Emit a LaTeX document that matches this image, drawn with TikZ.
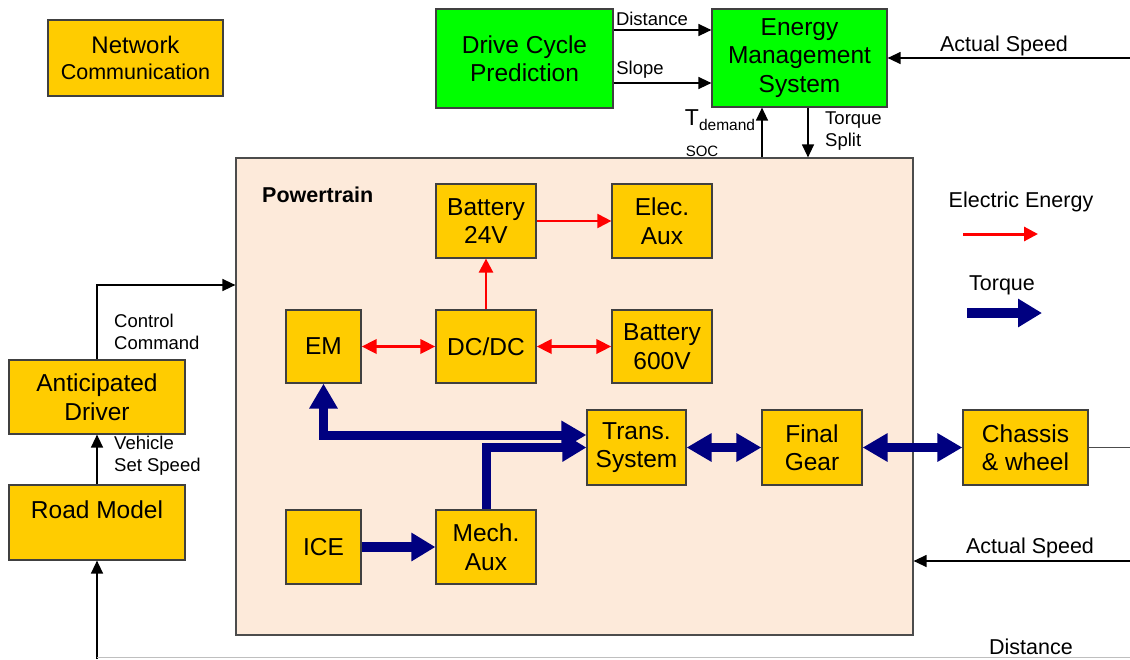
\documentclass[tikz,border=0pt]{standalone}
\usepackage{fontspec}
\setmainfont{Liberation Sans}
\usetikzlibrary{arrows.meta,calc}
\definecolor{obox}{HTML}{FFCC00}
\definecolor{grn}{HTML}{00FF00}
\definecolor{peach}{HTML}{FDEADA}
\definecolor{navyb}{HTML}{000080}
\definecolor{redl}{HTML}{FF0000}
\begin{document}
\begin{tikzpicture}[x=1pt,y=-1pt,
  box/.style={draw=black!75,line width=1.2pt,fill=obox,inner sep=0pt,align=center,font=\fontsize{24.5}{28.5}\selectfont},
  gbox/.style={box,fill=grn},
  lbl/.style={inner sep=0pt,align=left,font=\fontsize{18.5}{22}\selectfont},
  lbltwo/.style={inner sep=0pt,align=center,font=\fontsize{21.5}{24}\selectfont},
  sarrow/.style={draw=black,line width=1.3pt,-{Triangle[width=12pt,length=13pt]}},
  earrow/.style={draw=redl,line width=3pt,-{Triangle[width=14pt,length=14pt]}},
  ebiarrow/.style={draw=redl,line width=3.5pt,{Triangle[width=14pt,length=15pt]}-{Triangle[width=14pt,length=15pt]}},
  tarrow/.style={draw=navyb,line width=9pt,-{Triangle[width=27pt,length=24pt]}},
  tbiarrow/.style={draw=navyb,line width=9pt,{Triangle[width=27pt,length=25pt]}-{Triangle[width=27pt,length=25pt]}}]
\useasboundingbox (0,0) rectangle (1130,659);

% top boxes
\node[box,minimum width=175pt,minimum height=76pt,font=\fontsize{21.5}{26}\selectfont] (net) at (135.5,58) {{\fontsize{24}{26}\selectfont Network}\\Communication};
\node[gbox,minimum width=177pt,minimum height=99pt] (dcp) at (524.5,58.5) {Drive Cycle\\Prediction};
\node[gbox,minimum width=175pt,minimum height=98pt] (ems) at (799.5,58) {Energy\\Management\\System};

% powertrain
\node[draw=black!70,line width=1.2pt,fill=peach,minimum width=677pt,minimum height=477pt,inner sep=0pt] (pt) at (574.5,396.5) {};
\node[anchor=west,inner sep=0pt,font=\bfseries\fontsize{21.5}{24}\selectfont] (tpt) at (262,195) {Powertrain};

\node[box,minimum width=100pt,minimum height=74pt] (bat24) at (486,221) {Battery\\24V};
\node[box,minimum width=100pt,minimum height=74pt] (elec) at (662,221) {Elec.\\Aux};
\node[box,minimum width=75pt,minimum height=73pt] (em) at (323.5,346.5) {EM};
\node[box,minimum width=100pt,minimum height=73pt] (dcdc) at (486,346.5) {DC/DC};
\node[box,minimum width=100pt,minimum height=73pt] (bat600) at (662,346.5) {Battery\\600V};
\node[box,minimum width=99pt,minimum height=75pt] (trans) at (636.5,447.5) {Trans.\\System};
\node[box,minimum width=100pt,minimum height=75pt] (fg) at (812,447.5) {Final\\Gear};
\node[box,minimum width=125pt,minimum height=75pt] (chassis) at (1025.5,447.5) {Chassis\\\&\ wheel};
\node[box,minimum width=75pt,minimum height=74pt] (ice) at (323.5,547) {ICE};
\node[box,minimum width=100pt,minimum height=74pt] (mech) at (486,547) {Mech.\\Aux};

% left boxes
\node[box,minimum width=176pt,minimum height=74pt] (driver) at (97,397) {Anticipated\\Driver};
\node[box,minimum width=176pt,minimum height=75pt] (road) at (97,522.5) {Road Model\\[-12pt]\strut};

% coordinates for free ends
\coordinate (as1) at (1130,58);
\coordinate (as2) at (1130,561);
\coordinate (cw) at (1130,447.5);
\coordinate (rb) at (97,659);
\coordinate (bl) at (1130,657.5);
\coordinate (le1) at (963,234);
\coordinate (le2) at (1038,234);
\coordinate (lt1) at (967,313);
\coordinate (lt2) at (1042,313);

% signal connectors
\draw[sarrow] ([yshift=28pt]ems.west -| dcp.east) -- ([yshift=28pt]ems.west);
\draw[sarrow] ([yshift=-25pt]ems.west -| dcp.east) -- ([yshift=-25pt]ems.west);
\draw[sarrow] (as1) -- (ems.east);
\draw[sarrow] ([xshift=-37.5pt]ems.south |- pt.north) -- ([xshift=-37.5pt]ems.south);
\draw[sarrow] ([xshift=8.5pt]ems.south) -- ([xshift=8.5pt]ems.south |- pt.north);
\draw[sarrow] (driver.north) |- ([yshift=111.5pt]pt.west);
\draw[sarrow] (road.north) -- (driver.south);
\draw[sarrow] (rb) -- (road.south);
\draw[line width=1pt,black!25] ([yshift=1.5pt]rb) -- (bl);
\draw[line width=1.2pt,black!70] (chassis.east) -- (cw);
\draw[sarrow] (as2) -- ([yshift=-164.5pt]pt.east);

% electric energy
\draw[earrow,line width=2pt] (bat24.east) -- (elec.west);
\draw[earrow,line width=2.5pt] (dcdc.north) -- (bat24.south);
\draw[ebiarrow] (em.east) -- (dcdc.west);
\draw[ebiarrow] (dcdc.east) -- (bat600.west);

% torque
\draw[tbiarrow] (em.south) |- ([yshift=12.5pt]trans.west);
\draw[tarrow] (mech.north) |- (trans.west);
\draw[tarrow,line width=10pt] (ice.east) -- (mech.west);
\draw[tbiarrow] (trans.east) -- (fg.west);
\draw[tbiarrow] (fg.east) -- (chassis.west);

% labels
\node[lbl] (tdist) at (652,19) {Distance};
\node[lbl] (tslope) at (640,70) {Slope};
\node[lbltwo] (tas1) at (1004,46) {Actual Speed};
\node[inner sep=0pt] (tdem) at (720,120) {\fontsize{23}{25}\selectfont T\raisebox{-5pt}{\fontsize{15.5}{17}\selectfont demand}};
\node[inner sep=0pt,font=\fontsize{15}{17}\selectfont] (tsoc) at (702,151) {SOC};
\node[lbl,anchor=west] (tsplit) at (825,131) {Torque\\Split};
\node[lbl,anchor=west] (tcc) at (114,332) {Control\\Command};
\node[lbl,anchor=west] (tvss) at (114,456) {Vehicle\\Set Speed};
\node[lbltwo] (tas2) at (1030,548) {Actual Speed};
\node[lbltwo] (tdist2) at (1031,647) {Distance};

% legend
\node[lbltwo] (tee) at (1021,202) {Electric Energy};
\draw[earrow] (le1) -- (le2);
\node[lbltwo] (ttq) at (1002,285) {Torque};
\draw[tarrow,line width=10pt] (lt1) -- (lt2);
\end{tikzpicture}
\end{document}
